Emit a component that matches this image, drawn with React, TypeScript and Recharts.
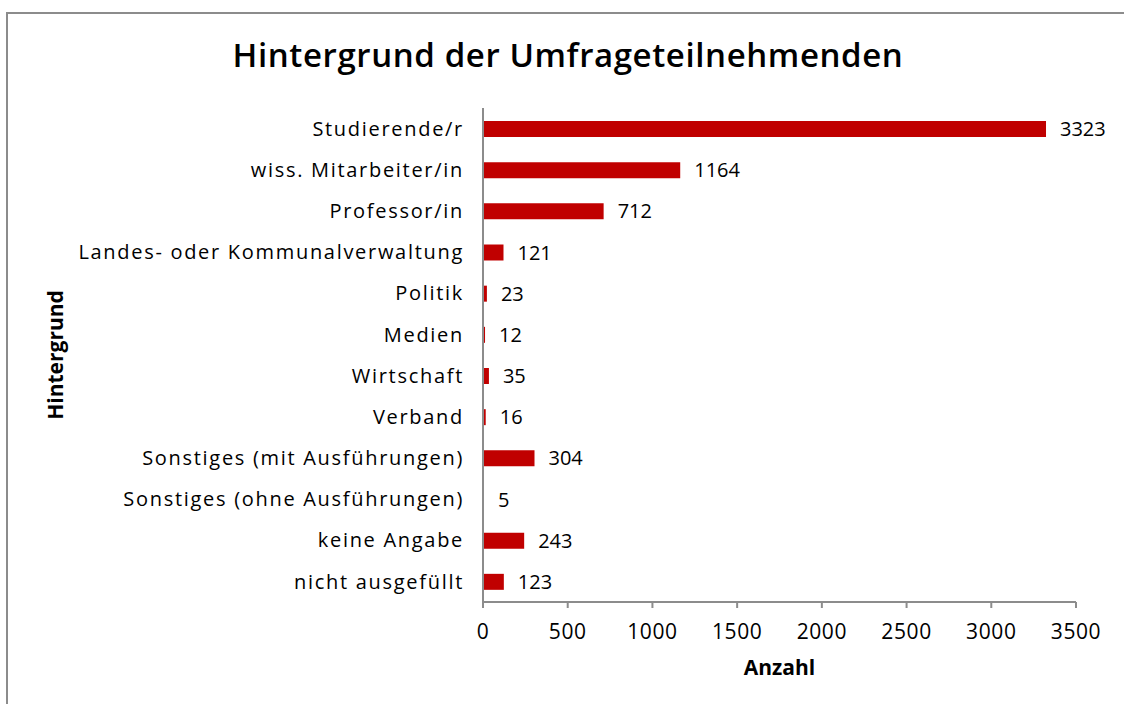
import React from "react";
import { BarChart, Bar, XAxis, YAxis, LabelList } from "recharts";

const categories = [
  "Studierende/r",
  "wiss. Mitarbeiter/in",
  "Professor/in",
  "Landes- oder Kommunalverwaltung",
  "Politik",
  "Medien",
  "Wirtschaft",
  "Verband",
  "Sonstiges (mit Ausführungen)",
  "Sonstiges (ohne Ausführungen)",
  "keine Angabe",
  "nicht ausgefüllt",
];
const counts = [3323, 1164, 712, 121, 23, 12, 35, 16, 304, 5, 243, 123];
const xTicks = [0, 500, 1000, 1500, 2000, 2500, 3000, 3500];

const data = categories.map((name, i) => ({ name, value: counts[i] }));

const FONT = "'Open Sans', sans-serif";
const AXIS = "#8c8c8c";

export default function App() {
  return (
    <div style={{ position: "absolute", left: 0, top: 0, width: 1124, height: 704, background: "#fff", fontFamily: FONT, overflow: "hidden" }}>
      {/* outer frame, only left and top edges are visible */}
      <div style={{ position: "absolute", left: 6, top: 12, width: 1200, height: 800, borderLeft: "2px solid #8c8c8c", borderTop: "2px solid #8c8c8c" }} />
      <div style={{ position: "absolute", left: 0, top: 32, width: 1136, textAlign: "center", fontSize: 33, fontWeight: 600, letterSpacing: 0.6, color: "#000" }}>
        Hintergrund der Umfrageteilnehmenden
      </div>
      <div style={{ position: "absolute", left: 0, top: 0 }}>
        <BarChart
          width={1124}
          height={704}
          data={data}
          layout="vertical"
          margin={{ top: 108, right: 48, bottom: 42, left: 0 }}
          barCategoryGap={0}
        >
          <XAxis
            type="number"
            domain={[0, 3500]}
            ticks={xTicks}
            height={60}
            stroke={AXIS}
            strokeWidth={2}
            tickSize={6}
            tickMargin={16}
            tick={{ fill: "#000", fontSize: 21, fontFamily: FONT, letterSpacing: 0.6 }}
            label={{
              content: ({ viewBox }: any) => (
                <text x={viewBox.x + viewBox.width / 2} y={667} textAnchor="middle" dominantBaseline="central" fontSize={21} fontWeight={700} fontFamily={FONT} fill="#000">
                  Anzahl
                </text>
              ),
            }}
          />
          <YAxis
            type="category"
            dataKey="name"
            width={483}
            stroke={AXIS}
            strokeWidth={2}
            tickLine={false}
            tickSize={0}
            tickMargin={19}
            interval={0}
            tick={{ fill: "#000", fontSize: 20, fontFamily: FONT, letterSpacing: 1.7 }}
            label={{
              content: ({ viewBox }: any) => {
                const cy = viewBox.y + viewBox.height / 2;
                return (
                  <text x={55} y={cy} transform={`rotate(-90 55 ${cy})`} textAnchor="middle" dominantBaseline="central" fontSize={21} fontWeight={700} fontFamily={FONT} fill="#000">
                    Hintergrund
                  </text>
                );
              },
            }}
          />
          <Bar dataKey="value" fill="#c00000" barSize={16} minPointSize={1} isAnimationActive={false}>
            <LabelList dataKey="value" position="right" offset={14} fill="#000" fontSize={20} fontFamily={FONT} />
          </Bar>
        </BarChart>
      </div>
    </div>
  );
}
